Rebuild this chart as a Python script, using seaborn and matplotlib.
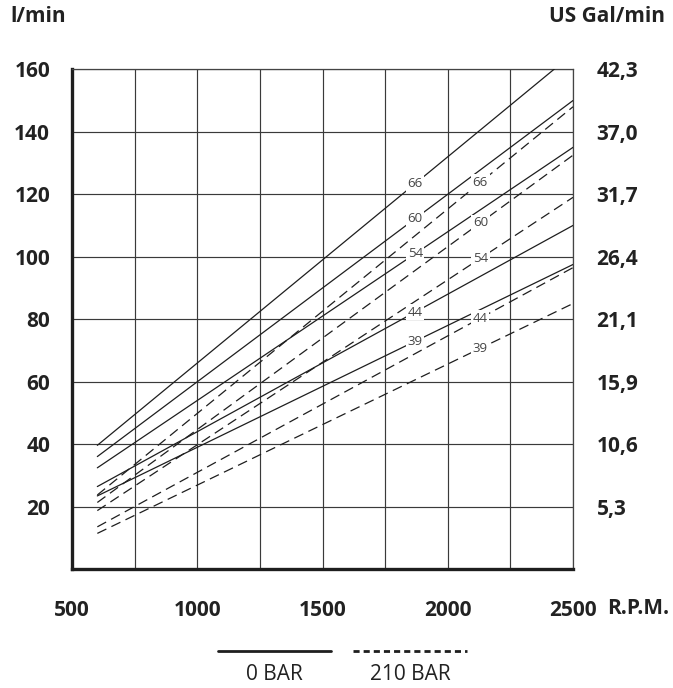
import matplotlib
matplotlib.use('Agg')
import matplotlib.pyplot as plt
import seaborn as sns
import pandas as pd
import numpy as np
from matplotlib.lines import Line2D

# ---- data ----
rpm_range = [600, 2500]
displacements = [66, 60, 54, 44, 39]
flow_0bar_start = [39.6, 36.0, 32.4, 26.4, 23.4]
flow_0bar_end = [165.0, 150.0, 135.0, 110.0, 97.5]
flow_210bar_start = [23.7, 21.3, 18.7, 13.5, 11.4]
flow_210bar_end = [148.0, 132.5, 119.0, 96.5, 85.0]
pressures = ['0 BAR', '210 BAR']
left_ticks = [20, 40, 60, 80, 100, 120, 140, 160]
right_tick_labels = ['5,3', '10,6', '15,9', '21,1', '26,4', '31,7', '37,0', '42,3']
x_ticks = [500, 1000, 1500, 2000, 2500]
x_minor = [750, 1250, 1750, 2250]
label_rpm = {'0 BAR': 1870, '210 BAR': 2130}

rows = []
for d, s0, e0, s1, e1 in zip(displacements, flow_0bar_start, flow_0bar_end,
                             flow_210bar_start, flow_210bar_end):
    for r, f in zip(rpm_range, [s0, e0]):
        rows.append(dict(rpm=r, flow=f, disp=d, pressure=pressures[0]))
    for r, f in zip(rpm_range, [s1, e1]):
        rows.append(dict(rpm=r, flow=f, disp=d, pressure=pressures[1]))
df = pd.DataFrame(rows)

sns.set_style('white')
plt.rcParams['font.family'] = ['Open Sans', 'DejaVu Sans']

W, H = 673, 688
fig = plt.figure(figsize=(W / 100, H / 100), dpi=100)
ax = fig.add_axes([72.3 / W, (H - 569) / H, (573 - 72.3) / W, (569 - 69.3) / H])

line_col = '#1e1e1e'
sns.lineplot(data=df, x='rpm', y='flow', units='disp', style='pressure',
             estimator=None, color=line_col,
             dashes={'0 BAR': '', '210 BAR': (8, 4.5)},
             linewidth=0.9, legend=False, ax=ax, zorder=3)

# line labels
for p, starts, ends in [(pressures[0], flow_0bar_start, flow_0bar_end),
                        (pressures[1], flow_210bar_start, flow_210bar_end)]:
    xr = label_rpm[p]
    for d, s, e in zip(displacements, starts, ends):
        y = np.interp(xr, rpm_range, [s, e])
        ax.text(xr, y, str(d), ha='center', va='center', fontsize=9.5,
                color='#444444', zorder=5,
                bbox=dict(boxstyle='square,pad=0.12', fc='white', ec='none'))

ax.set_xlim(500, 2500)
ax.set_ylim(0, 160)
ax.set_xticks(x_ticks)
ax.set_xticks(x_minor, minor=True)
ax.set_yticks(left_ticks)
ax.grid(which='both', color='#3a3a3a', lw=0.85, zorder=1)
ax.set_axisbelow(True)
ax.tick_params(which='both', length=0)
ax.tick_params(axis='x', pad=22)
ax.tick_params(axis='y', pad=16)
ax.set_xticklabels([str(v) for v in x_ticks], fontsize=15, fontweight='bold', color='#222222')
ax.set_yticklabels([str(v) for v in left_ticks], fontsize=15, fontweight='bold', color='#222222')
ax.set_xlabel('')
ax.set_ylabel('')

for s in ['left', 'bottom']:
    ax.spines[s].set_linewidth(2.4)
    ax.spines[s].set_color('#1e1e1e')
for s in ['top', 'right']:
    ax.spines[s].set_linewidth(0.9)
    ax.spines[s].set_color('#444444')

ax2 = ax.twinx()
ax2.set_ylim(0, 160)
ax2.set_yticks(left_ticks)
ax2.set_yticklabels(right_tick_labels, fontsize=15, fontweight='bold', color='#222222')
ax2.tick_params(length=0, pad=17)
for s in ax2.spines.values():
    s.set_visible(False)

fig.text(10 / W, 1 - 17 / H, 'l/min', ha='left', va='center', fontsize=15,
         fontweight='bold', color='#222222')
fig.text(665 / W, 1 - 17 / H, 'US Gal/min', ha='right', va='center', fontsize=15,
         fontweight='bold', color='#222222')
fig.text(607 / W, 1 - 608 / H, 'R.P.M.', ha='left', va='center', fontsize=15,
         fontweight='bold', color='#222222')

# legend
ly = 1 - 651 / H
fig.add_artist(Line2D([218 / W, 331 / W], [ly, ly], transform=fig.transFigure,
                      color=line_col, lw=2.0))
fig.add_artist(Line2D([353 / W, 467 / W], [ly, ly], transform=fig.transFigure,
                      color=line_col, lw=2.0, linestyle=(0, (2.2, 1.45))))
fig.text(274 / W, 1 - 675 / H, pressures[0], ha='center', va='center', fontsize=15,
         color='#222222')
fig.text(410 / W, 1 - 675 / H, pressures[1], ha='center', va='center', fontsize=15,
         color='#222222')

fig.savefig('out.png', dpi=100)
